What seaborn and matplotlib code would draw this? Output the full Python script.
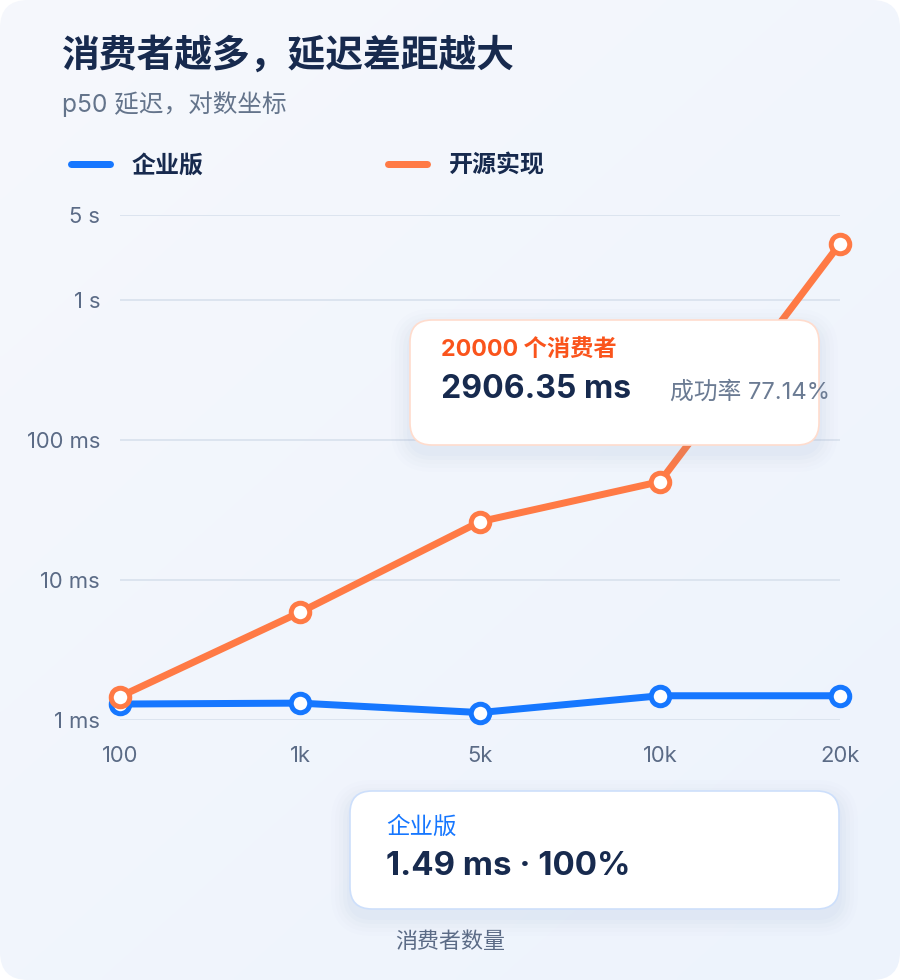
import numpy as np
import pandas as pd
import matplotlib
matplotlib.use("Agg")
import matplotlib.pyplot as plt
from matplotlib.patches import FancyBboxPatch
from matplotlib.lines import Line2D
from matplotlib.ticker import FixedLocator, NullLocator
import seaborn as sns

# ---------------- data ----------------
consumers = ["100", "1k", "5k", "10k", "20k"]
enterprise_ms = [1.30, 1.32, 1.13, 1.49, 1.49]
opensource_ms = [1.47, 5.88, 26.1, 50.4, 2906.35]
series_names = ["企业版", "开源实现"]
y_tick_values = [1, 10, 100, 1000, 5000]
y_tick_labels = ["1 ms", "10 ms", "100 ms", "1 s", "5 s"]

title = "消费者越多，延迟差距越大"
subtitle = "p50 延迟，对数坐标"
x_label = "消费者数量"
tip1_head = "20000 个消费者"
tip1_value = "2906.35 ms"
tip1_rate = "成功率 77.14%"
tip2_head = "企业版"
tip2_value = "1.49 ms · 100%"

BLUE = "#1677ff"
ORANGE = "#ff7a45"
NAVY = "#172a4e"
SLATE = "#5b6b86"
GRID = "#dce4ef"

sns.set_theme(style="white")
plt.rcParams["font.family"] = ["Inter", "Noto Sans CJK SC", "DejaVu Sans"]

PX = 0.72  # points per pixel at dpi 100
W, H = 900, 980
fig = plt.figure(figsize=(W / 100, H / 100), dpi=100)
fig.patch.set_facecolor("white")

# ---------------- background card ----------------
bg = fig.add_axes([0, 0, 1, 1], zorder=0)
bg.set_xlim(0, W)
bg.set_ylim(H, 0)
bg.axis("off")
yy, xx = np.mgrid[0:1:200j, 0:1:200j]
t = (xx * 0.45 + yy * 0.55)
c0 = np.array([0xf6, 0xf8, 0xfc]) / 255
c1 = np.array([0xed, 0xf3, 0xfd]) / 255
grad = c0[None, None, :] * (1 - t[..., None]) + c1[None, None, :] * t[..., None]
im = bg.imshow(grad, extent=[0, W, H, 0], aspect="auto", interpolation="bilinear")
card = FancyBboxPatch((0, 0), W, H, boxstyle="round,pad=0,rounding_size=28",
                      transform=bg.transData, facecolor="none", edgecolor="none")
bg.add_patch(card)
im.set_clip_path(card)

# ---------------- main chart ----------------
L, R, T, B = 120, 840, 215, 720
ax = fig.add_axes([L / W, (H - B) / H, (R - L) / W, (B - T) / H], zorder=1)
ax.patch.set_alpha(0)

k = (85 / 140) / np.log10(5)

def fwd(v):
    lv = np.log10(np.clip(np.asarray(v, dtype=float), 1e-12, None))
    return np.where(lv <= 3, lv, 3 + (lv - 3) * k)

def inv(u):
    u = np.asarray(u, dtype=float)
    return np.where(u <= 3, 10 ** u, 10 ** (3 + (u - 3) / k))

df = pd.DataFrame({
    "consumers": consumers * 2,
    "latency": enterprise_ms + opensource_ms,
    "impl": [series_names[0]] * len(consumers) + [series_names[1]] * len(consumers),
})

sns.lineplot(data=df, x="consumers", y="latency", hue="impl", hue_order=series_names,
             palette={series_names[0]: BLUE, series_names[1]: ORANGE},
             marker="o", markersize=18.5 * PX, markeredgewidth=5 * PX,
             markerfacecolor="white", linewidth=7 * PX, sort=False,
             legend=False, ax=ax, clip_on=False)
for ln in ax.lines:
    ln.set_markeredgecolor(ln.get_color())
    ln.set_clip_on(False)
    ln.set_solid_joinstyle("round")
    ln.set_solid_capstyle("round")

ax.set_yscale("function", functions=(fwd, inv))
ax.set_ylim(1, 5000)
ax.set_xlim(0, len(consumers) - 1)
ax.yaxis.set_major_locator(FixedLocator(y_tick_values))
ax.yaxis.set_minor_locator(NullLocator())
ax.set_yticklabels(y_tick_labels)
ax.set_xlabel("")
ax.set_ylabel("")
for s in ax.spines.values():
    s.set_visible(False)
ax.tick_params(axis="y", length=0, pad=20 * PX, labelsize=22 * PX, labelcolor=SLATE)
ax.tick_params(axis="x", length=0, pad=26 * PX, labelsize=22 * PX, labelcolor=SLATE)
ax.yaxis.grid(True, color=GRID, linewidth=2 * PX)
ax.xaxis.grid(False)
ax.set_axisbelow(True)
ax.axhline(1, color="#c9d5e4", linewidth=2 * PX, zorder=0.5)

# ---------------- overlay (text, legend, tooltips) ----------------
ov = fig.add_axes([0, 0, 1, 1], zorder=2)
ov.set_xlim(0, W)
ov.set_ylim(H, 0)
ov.axis("off")
ov.patch.set_alpha(0)

ov.text(62, 56, title, fontsize=27.2, fontweight="bold", color=NAVY, va="center", ha="left")
ov.text(62, 104, subtitle, fontsize=24.6 * PX, color="#64748b", va="center", ha="left")

handles = [Line2D([0], [0], color=BLUE, lw=7 * PX, solid_capstyle="round"),
           Line2D([0], [0], color=ORANGE, lw=7 * PX, solid_capstyle="round")]
leg = fig.legend(handles, series_names, loc="center left",
                 bbox_to_anchor=(70.5 / W, 1 - 166 / H), ncol=2, frameon=False,
                 prop={"size": 24 * PX, "weight": "bold"},
                 handlelength=1.63, handletextpad=0.9, columnspacing=7.7,
                 borderpad=0, borderaxespad=0)
for txt in leg.get_texts():
    txt.set_color(NAVY)


def tooltip(x0, y0, x1, y1, edge):
    for i, a in enumerate([0.035, 0.03, 0.025, 0.02, 0.015]):
        p = 3 + i * 4
        ov.add_patch(FancyBboxPatch((x0 - p, y0 - p + 8), x1 - x0 + 2 * p, y1 - y0 + 2 * p,
                                    boxstyle=f"round,pad=0,rounding_size={22 + p}",
                                    facecolor="#8aa0c4", edgecolor="none", alpha=a))
    ov.add_patch(FancyBboxPatch((x0, y0), x1 - x0, y1 - y0,
                                boxstyle="round,pad=0,rounding_size=22",
                                facecolor="white", edgecolor=edge, linewidth=1.2))

tooltip(410, 320, 819, 445, "#ffdccd")
ov.text(441, 350, tip1_head, fontsize=23.3 * PX, fontweight="bold", color="#fa541c", va="center")
ov.text(441, 389, tip1_value, fontsize=32 * PX, fontweight="bold", color=NAVY, va="center")
ov.text(670, 392, tip1_rate, fontsize=23.8 * PX, color="#6b7b93", va="center")

tooltip(350, 791, 839, 909, "#cddffb")
ov.text(386, 828, tip2_head, fontsize=23.5 * PX, fontweight="medium", color=BLUE, va="center")
ov.text(386, 866, tip2_value, fontsize=33 * PX, fontweight="bold", color=NAVY, va="center")

ov.text(450, 942, x_label, fontsize=22 * PX, color=SLATE, va="center", ha="center")

fig.savefig("out.png", dpi=100)
